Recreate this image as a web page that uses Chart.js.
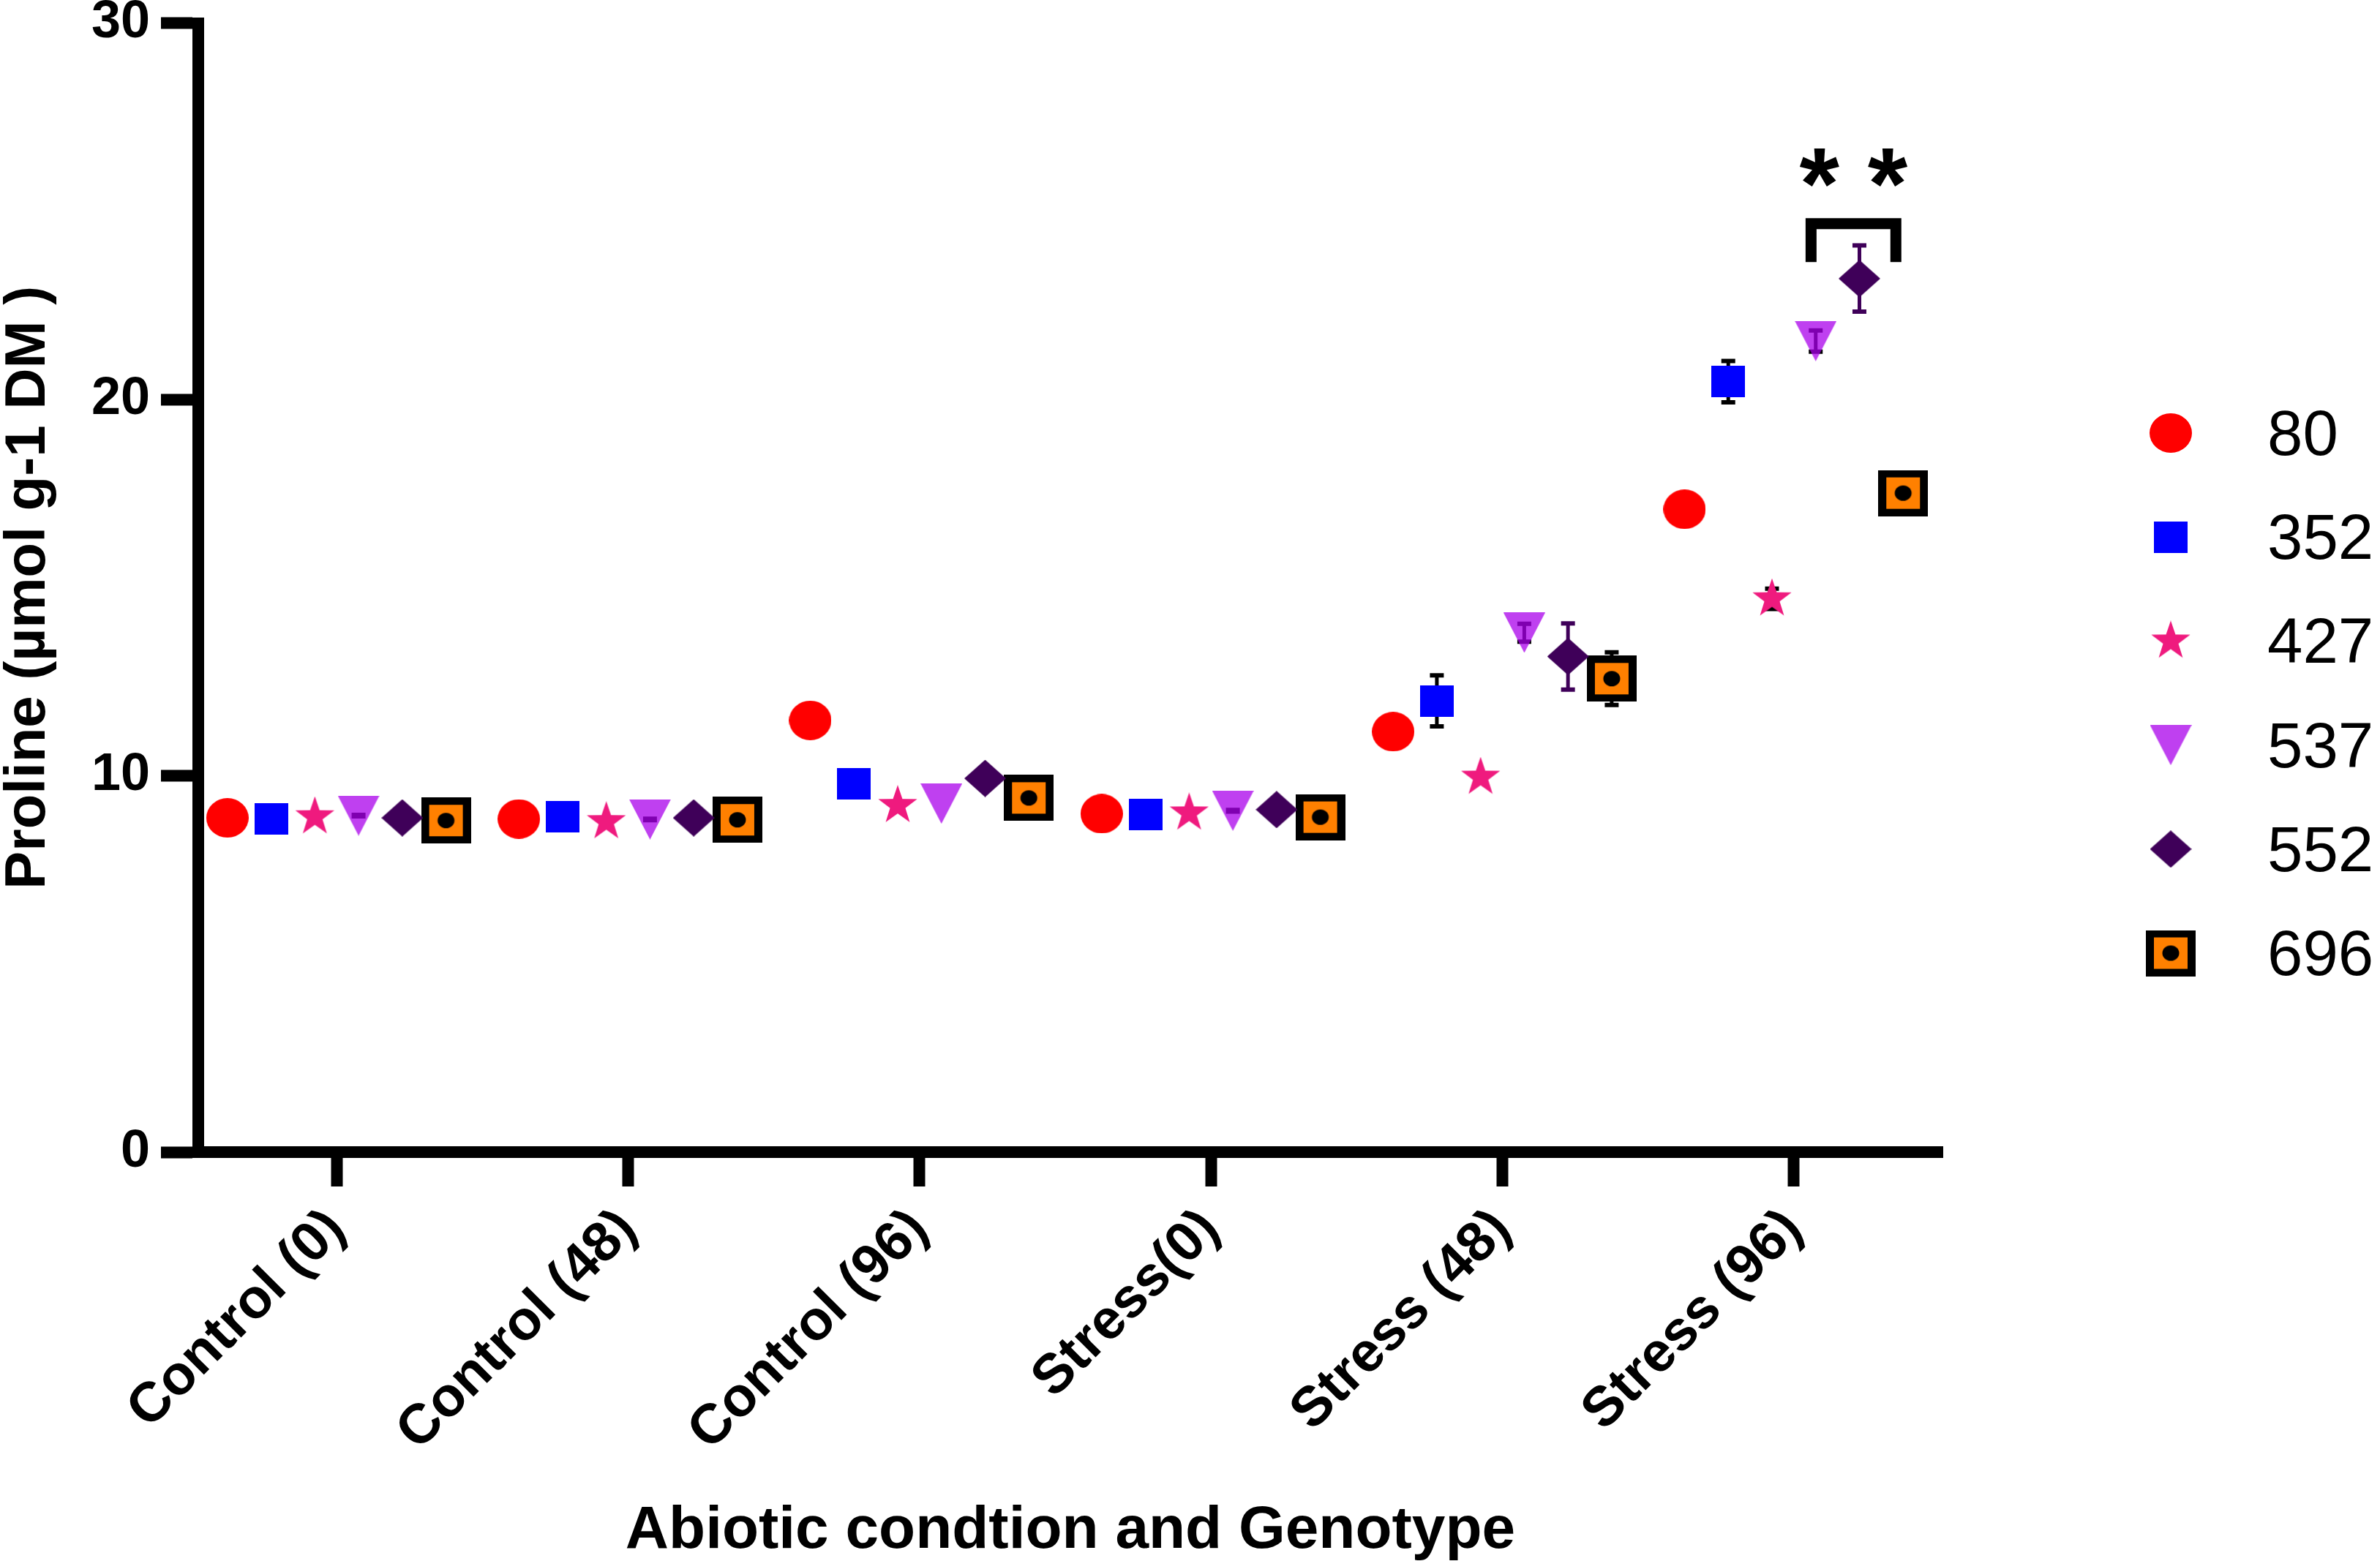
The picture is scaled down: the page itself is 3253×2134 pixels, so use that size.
<!DOCTYPE html>
<html>
<head>
<meta charset="utf-8">
<title>Proline</title>
<script src="https://cdn.jsdelivr.net/npm/chart.js@4.4.1/dist/chart.umd.min.js"></script>
<style>
    html, body { margin: 0; padding: 0; background: #ffffff; }
    #chart { display: block; }
</style>
</head>
<body>
<canvas id="chart" width="3253" height="2134"></canvas>
<script>
"use strict";

// Categories on the x axis and the genotypes of the legend:
var categories = ['Control (0)', 'Control (48)', 'Control (96)', 'Stress(0)', 'Stress (48)', 'Stress (96)'];
var genotypes = ['80', '352', '427', '537', '552', '696'];

// Mean proline per genotype (one value per category):
var values80 = [8.88, 8.85, 11.47, 8.99, 11.17, 17.08];
var values352 = [8.86, 8.92, 9.79, 8.97, 11.99, 20.47];
var values427 = [8.91, 8.78, 9.21, 9.01, 9.96, 14.70];
var values537 = [8.94, 8.84, 9.26, 9.07, 13.80, 21.55];
var values552 = [8.88, 8.88, 9.93, 9.10, 13.17, 23.21];
var values696 = [8.81, 8.83, 9.41, 8.90, 12.58, 17.51];

// Error bars (+/-), 0 = not drawn:
var err80 = [0, 0, 0, 0, 0, 0];
var err352 = [0.1, 0.1, 0.1, 0.1, 0.68, 0.55];
var err427 = [0, 0, 0, 0, 0, 0.27];
var err537 = [0.02, 0.02, 0, 0.02, 0.24, 0.28];
var err552 = [0.1, 0.1, 0.1, 0.1, 0.88, 0.88];
var err696 = [0.1, 0.1, 0.1, 0.1, 0.70, 0.25];

// Y axis ticks:
var yTicks = [0, 10, 20, 30];

// Significance mark over Stress (96):
var sigText = '* *';
var sigBracketX = [5.059, 5.350];
var sigBracketY = [23.65, 24.67];
var sigTextY = 26.16;

var allValues = [values80, values352, values427, values537, values552, values696];
var allErrors = [err80, err352, err427, err537, err552, err696];

var FONT = '"Liberation Sans", Arial, Helvetica, sans-serif';

// Helper to make a canvas used as point style:
var makeCanvas = function makeCanvas(w, h, draw) {
    var c = document.createElement('canvas');
    c.width = w;
    c.height = h;
    draw(c.getContext('2d'), w, h);
    return c;
};

var markers = [
    // 80: red circle
    makeCanvas(58, 54, function (g, w, h) {
        g.fillStyle = '#ff0000';
        g.beginPath();
        g.ellipse(w / 2, h / 2, w / 2, h / 2, 0, 0, Math.PI * 2);
        g.fill();
    }),
    // 352: blue square
    makeCanvas(46, 43, function (g, w, h) {
        g.fillStyle = '#0000ff';
        g.fillRect(0, 0, w, h);
    }),
    // 427: pink star
    makeCanvas(56, 56, function (g, w, h) {
        var R = 28, r = 11, cx = 28, cy = 28;
        g.fillStyle = '#ef1a7e';
        g.beginPath();
        for (var k = 0; k < 10; k++) {
            var a = -Math.PI / 2 + k * Math.PI / 5;
            var rr = k % 2 === 0 ? R : r;
            g.lineTo(cx + rr * Math.cos(a), cy + rr * Math.sin(a));
        }
        g.closePath();
        g.fill();
    }),
    // 537: violet triangle pointing down (a little see-through)
    makeCanvas(57, 55, function (g, w, h) {
        g.fillStyle = 'rgba(170, 0, 235, 0.75)';
        g.beginPath();
        g.moveTo(0, 0);
        g.lineTo(w, 0);
        g.lineTo(w / 2, h);
        g.closePath();
        g.fill();
    }),
    // 552: dark purple diamond
    makeCanvas(57, 51, function (g, w, h) {
        g.fillStyle = '#3f0059';
        g.beginPath();
        g.moveTo(w / 2, 0);
        g.lineTo(w, h / 2);
        g.lineTo(w / 2, h);
        g.lineTo(0, h / 2);
        g.closePath();
        g.fill();
    }),
    // 696: orange square with black frame and dot
    makeCanvas(68, 63, function (g, w, h) {
        g.fillStyle = '#000000';
        g.fillRect(0, 0, w, h);
        g.fillStyle = '#ff8000';
        g.fillRect(11, 10, w - 22, h - 20);
        g.fillStyle = '#000000';
        g.beginPath();
        g.ellipse(w / 2, h / 2, 11.5, 10.5, 0, 0, Math.PI * 2);
        g.fill();
    })
];

var errorColors = ['#000000', '#000000', '#000000', '#000000', '#3f0059', '#000000'];

// Horizontal offset of each genotype inside its category:
var groupStep = 0.15;
var offsetOf = function offsetOf(s) {
    return (s - (genotypes.length - 1) / 2) * groupStep;
};

var datasets = genotypes.map(function (name, s) {
    return {
        label: name,
        data: allValues[s].map(function (v, i) {
            return { x: i + offsetOf(s), y: v };
        }),
        pointStyle: markers[s],
        pointRadius: 28,
        pointHoverRadius: 28,
        showLine: false
    };
});

// Error bars, drawn behind the symbols:
var errorBars = {
    id: 'errorBars',
    beforeDatasetsDraw: function (chart) {
        var ctx = chart.ctx;
        var yScale = chart.scales.y;
        ctx.save();
        datasets.forEach(function (ds, s) {
            var meta = chart.getDatasetMeta(s);
            allErrors[s].forEach(function (e, i) {
                if (!e) {
                    return;
                }
                var x = meta.data[i].x;
                var yHi = yScale.getPixelForValue(allValues[s][i] + e);
                var yLo = yScale.getPixelForValue(allValues[s][i] - e);
                ctx.strokeStyle = errorColors[s];
                ctx.lineWidth = 5;
                ctx.beginPath();
                ctx.moveTo(x, yHi);
                ctx.lineTo(x, yLo);
                ctx.stroke();
                ctx.lineWidth = 6;
                ctx.beginPath();
                ctx.moveTo(x - 9.5, yHi);
                ctx.lineTo(x + 9.5, yHi);
                ctx.moveTo(x - 9.5, yLo);
                ctx.lineTo(x + 9.5, yLo);
                ctx.stroke();
            });
        });
        ctx.restore();
    }
};

// Bracket and asterisks:
var sigMark = {
    id: 'sigMark',
    afterDatasetsDraw: function (chart) {
        var ctx = chart.ctx;
        var xs = chart.scales.x;
        var ys = chart.scales.y;
        var xL = xs.getPixelForValue(sigBracketX[0]);
        var xR = xs.getPixelForValue(sigBracketX[1]);
        var yB = ys.getPixelForValue(sigBracketY[0]);
        var yT = ys.getPixelForValue(sigBracketY[1]);
        ctx.save();
        ctx.strokeStyle = '#000000';
        ctx.lineWidth = 15;
        ctx.lineJoin = 'miter';
        ctx.lineCap = 'butt';
        ctx.beginPath();
        ctx.moveTo(xL, yB);
        ctx.lineTo(xL, yT);
        ctx.lineTo(xR, yT);
        ctx.lineTo(xR, yB);
        ctx.stroke();

        ctx.fillStyle = '#000000';
        ctx.font = 'bold 140px ' + FONT;
        ctx.textAlign = 'center';
        ctx.textBaseline = 'alphabetic';
        var m = ctx.measureText(sigText);
        var yc = ys.getPixelForValue(sigTextY);
        var base = yc + (m.actualBoundingBoxAscent - m.actualBoundingBoxDescent) / 2;
        ctx.fillText(sigText, (xL + xR) / 2, base);
        ctx.restore();
    }
};

// Legend at the right, one row per genotype:
var legendBox = {
    id: 'legendBox',
    afterDraw: function (chart) {
        var ctx = chart.ctx;
        var markerX = 2967;
        var textX = 3099;
        var rowTop = 592;
        var rowStep = 142.2;
        ctx.save();
        ctx.fillStyle = '#000000';
        ctx.font = '87px ' + FONT;
        ctx.textAlign = 'left';
        ctx.textBaseline = 'alphabetic';
        genotypes.forEach(function (name, s) {
            var y = rowTop + s * rowStep;
            var img = markers[s];
            ctx.drawImage(img, markerX - img.width / 2, y - img.height / 2);
            ctx.fillText(name, textX, y + 30);
        });
        ctx.restore();
    }
};

var chart = new Chart(document.getElementById('chart').getContext('2d'), {
    type: 'scatter',
    data: { datasets: datasets },
    options: {
        responsive: false,
        animation: false,
        devicePixelRatio: 1,
        layout: { padding: { left: 0, top: 31.5, right: 598, bottom: 0 } },
        plugins: {
            legend: { display: false },
            tooltip: { enabled: false }
        },
        scales: {
            x: {
                type: 'linear',
                min: -0.475,
                max: 5.51,
                afterBuildTicks: function (scale) {
                    scale.ticks = categories.map(function (c, i) {
                        return { value: i };
                    });
                },
                afterFit: function (scale) {
                    scale.height = 559;
                },
                ticks: {
                    callback: function (value, index) {
                        return categories[index];
                    },
                    autoSkip: false,
                    maxRotation: 45,
                    minRotation: 45,
                    padding: 14,
                    color: '#000000',
                    font: { family: FONT, size: 76, weight: 'bold' }
                },
                grid: {
                    drawOnChartArea: false,
                    drawTicks: true,
                    tickLength: 47,
                    tickWidth: 16,
                    tickColor: '#000000',
                    lineWidth: 1
                },
                border: { display: true, width: 16, color: '#000000' },
                title: {
                    display: true,
                    text: 'Abiotic condtion and Genotype',
                    color: '#000000',
                    padding: 0,
                    font: { family: FONT, size: 82, weight: 'bold', lineHeight: 1 }
                }
            },
            y: {
                min: 0,
                max: 30,
                afterBuildTicks: function (scale) {
                    scale.ticks = yTicks.map(function (v) {
                        return { value: v };
                    });
                },
                afterFit: function (scale) {
                    scale.width = 271;
                },
                ticks: {
                    padding: 15,
                    color: '#000000',
                    font: { family: FONT, size: 72, weight: 'bold', lineHeight: 0.4 }
                },
                grid: {
                    drawOnChartArea: false,
                    drawTicks: true,
                    tickLength: 51,
                    tickWidth: 16,
                    tickColor: '#000000',
                    lineWidth: 1
                },
                border: { display: true, width: 16, color: '#000000' },
                title: {
                    display: true,
                    text: 'Proline (µmol g-1 DM )',
                    color: '#000000',
                    padding: 0,
                    font: { family: FONT, size: 78, weight: 'bold', lineHeight: 1 }
                }
            }
        }
    },
    plugins: [errorBars, sigMark, legendBox]
});
</script>
</body>
</html>
